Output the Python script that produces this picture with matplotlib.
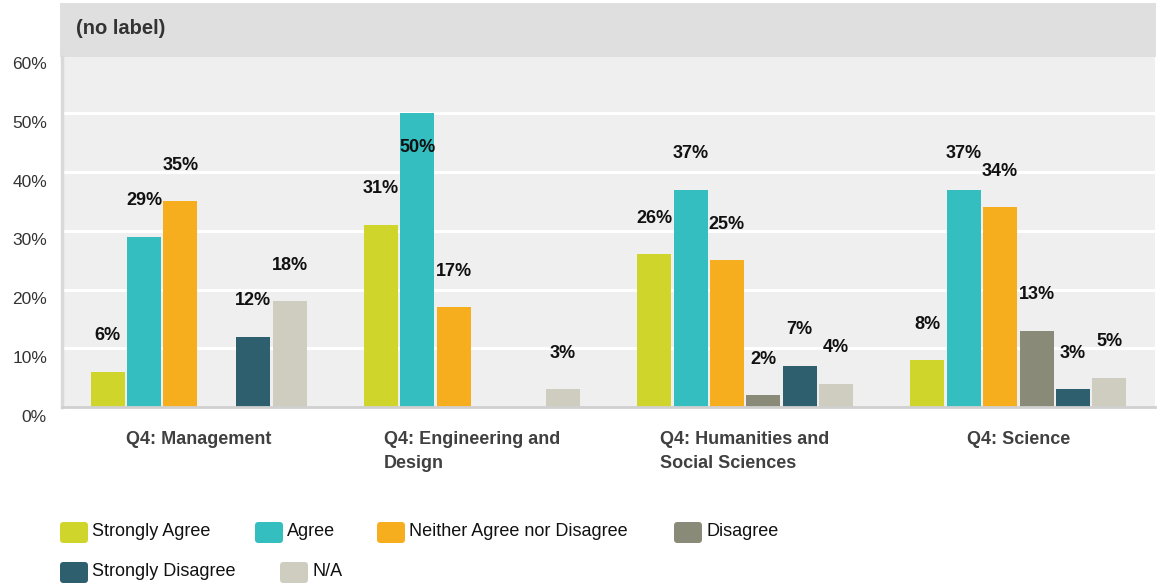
import matplotlib
matplotlib.use("Agg")
import matplotlib.pyplot as plt
from matplotlib import font_manager
from matplotlib.patches import Rectangle, FancyBboxPatch
from matplotlib.transforms import ScaledTranslation
import numpy as np

# ---- data ----
categories = ["Q4: Management", "Q4: Engineering and\nDesign",
              "Q4: Humanities and\nSocial Sciences", "Q4: Science"]
series_names = ["Strongly Agree", "Agree", "Neither Agree nor Disagree",
                "Disagree", "Strongly Disagree", "N/A"]
strongly_agree = [6, 31, 26, 8]
agree = [29, 50, 37, 37]
neither = [35, 17, 25, 34]
disagree = [0, 0, 2, 13]
strongly_disagree = [12, 0, 7, 3]
not_applicable = [18, 3, 4, 5]
y_ticks = [0, 10, 20, 30, 40, 50, 60]
panel_title = "(no label)"

series_values = [strongly_agree, agree, neither, disagree,
                 strongly_disagree, not_applicable]
colors = ["#CFD52A", "#34BEC0", "#F6AE1F", "#8A8A78", "#2E5F6E", "#CFCDC0"]

available = {f.name for f in font_manager.fontManager.ttflist}
base_font = "Liberation Sans" if "Liberation Sans" in available else "DejaVu Sans"
plt.rcParams["font.family"] = [base_font, "DejaVu Sans"]

W, H = 1162, 585
fig = plt.figure(figsize=(W / 100, H / 100), dpi=100)
fig.patch.set_facecolor("white")


def px_box(x0, y0, x1, y1):
    """Convert a top-left pixel box into figure fractions."""
    return (x0 / W, 1 - y1 / H, (x1 - x0) / W, (y1 - y0) / H)


# header band
hx, hy, hw, hh = px_box(60, 3, 1156, 57)
fig.add_artist(Rectangle((hx, hy), hw, hh, transform=fig.transFigure,
                         facecolor="#DFDFDF", edgecolor="none", zorder=0))
fig.text(76 / W, 1 - 28 / H, panel_title, fontsize=14.5, fontweight="bold",
         color="#333333", va="center", ha="left")

# plot area
ax = fig.add_axes(px_box(62, 57, 1155, 407))
ax.set_facecolor("#EFEFEF")
ax.set_xlim(-0.5, len(categories) - 0.5)
ax.set_ylim(0, 59.6)

for v in y_ticks[1:]:
    ax.axhline(v, color="white", lw=2.2, zorder=1)

for s in ["top", "right"]:
    ax.spines[s].set_visible(False)
ax.spines["left"].set_color("#D9D9D9")
ax.spines["left"].set_linewidth(2.5)
ax.spines["bottom"].set_color("#D0D0D0")
ax.spines["bottom"].set_linewidth(2)
ax.set_xticks([])
ax.set_yticks([])

# y-axis labels, sitting a little below their gridlines
ytrans = ax.get_yaxis_transform() + ScaledTranslation(-15 / 100, -10 / 100, fig.dpi_scale_trans)
for v in y_ticks:
    ax.text(0, v, f"{v}%", transform=ytrans, ha="right", va="center",
            fontsize=12.5, color="#333333", clip_on=False)

# bars
x = np.arange(len(categories))
slot = 36.4 / 273.25
bar_w = 34 / 273.25
n = len(series_values)
above = ScaledTranslation(0, 36 / 100, fig.dpi_scale_trans)
below = ScaledTranslation(0, -34 / 100, fig.dpi_scale_trans)
for j, (vals, col) in enumerate(zip(series_values, colors)):
    xs = x + (j - (n - 1) / 2) * slot
    ax.bar(xs, vals, width=bar_w, color=col, zorder=2, linewidth=0)
    for xi, v in zip(xs, vals):
        if v <= 0:
            continue
        off = below if v > 45 else above
        ax.text(xi, v, f"{v}%", transform=ax.transData + off,
                ha="center", va="center", fontsize=13, fontweight="bold",
                color="#111111", zorder=5, clip_on=False)

# category labels under each group
ctrans = ax.get_xaxis_transform() + ScaledTranslation(0, -24 / 100, fig.dpi_scale_trans)
for xi, lab in zip(x, categories):
    ax.text(xi, 0, lab, transform=ctrans, ha="center", va="top",
            multialignment="left", fontsize=13, fontweight="bold",
            color="#404040", linespacing=1.55, clip_on=False)

# legend: swatch left edge and row top, in pixels
legend_pos = [(60, 522), (255, 522), (377, 522), (674, 522), (60, 562), (280, 562)]
for (lx, ly), name, col in zip(legend_pos, series_names, colors):
    bx, by, bw, bh = px_box(lx, ly, lx + 28, ly + 21)
    fig.add_artist(FancyBboxPatch((bx, by), bw, bh,
                                  boxstyle="round,pad=0,rounding_size=0.003",
                                  transform=fig.transFigure, facecolor=col,
                                  edgecolor="none", mutation_aspect=W / H))
    fig.text((lx + 32) / W, 1 - (ly + 9) / H, name, fontsize=13,
             color="#111111", ha="left", va="center")

fig.savefig("out.png", dpi=100)
